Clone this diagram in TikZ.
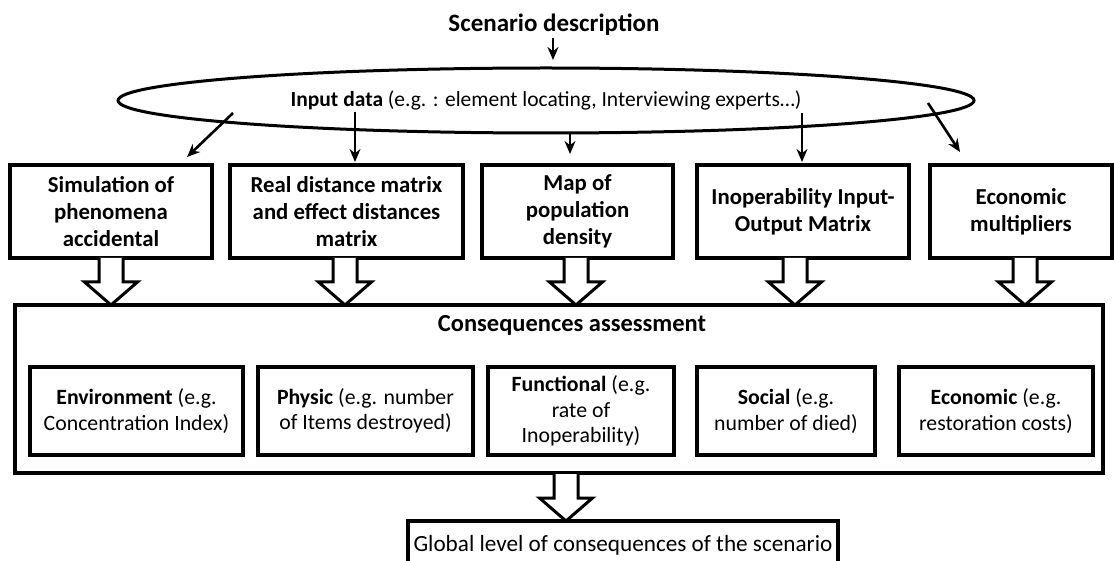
\documentclass[tikz,border=0pt]{standalone}
\usepackage{fontspec}
\setmainfont{Carlito}
\usetikzlibrary{shapes.geometric,arrows.meta}
\tikzset{
  topbox/.style={draw, line width=3.4pt, align=center, inner sep=0pt, font=\fontsize{22.8}{27}\selectfont\bfseries},
  innerbox/.style={draw, line width=3.4pt, align=center, inner sep=0pt, font=\fontsize{21.8}{25.5}\selectfont},
  bigbox/.style={draw, line width=3.4pt, inner sep=0pt},
  thinarr/.style={line width=2.6pt, -{Stealth[length=13pt,width=11pt]}},
  barrow/.pic={\draw[line width=3pt, line join=miter, fill=white]
     (-12,0) -- (-12,24) -- (-26.5,24) -- (0,47) -- (26.5,24) -- (12,24) -- (12,0);}
}
\begin{document}
\begin{tikzpicture}[x=1pt,y=-1pt]
\path[use as bounding box] (0,0) rectangle (1114,561);
\clip (0,0) rectangle (1114,561);
\fill[white] (0,0) rectangle (1114,561);

% top
\node[font=\fontsize{25}{28}\selectfont\bfseries, inner sep=0pt] (scen) at (554,25) {Scenario description};
\node[ellipse, draw, line width=3pt, minimum width=856pt, minimum height=65pt, inner sep=0pt,
      font=\fontsize{21.5}{25}\selectfont] (inp) at (546,100.5)
      {\textbf{Input data} (e.g. : element locating, Interviewing experts\dots)};

% top boxes
\node[topbox, minimum width=202pt, minimum height=93pt] (b1) at (111,211.5) {Simulation of\\phenomena\\accidental};
\node[topbox, minimum width=233pt, minimum height=93pt] (b2) at (346.5,211.5) {Real distance matrix\\and effect distances\\matrix};
\node[topbox, minimum width=191pt, minimum height=93pt] (b3) at (577.5,211.5) {Map of\\population\\density};
\node[topbox, minimum width=212pt, minimum height=93pt] (b4) at (803,211.5) {Inoperability Input-\\Output Matrix};
\node[topbox, minimum width=182pt, minimum height=93pt] (b5) at (1021,211.5) {Economic\\multipliers};

% thin arrows
\coordinate (s0) at (553,38);  \coordinate (t0) at (553,60);
\coordinate (s1) at (233,113); \coordinate (t1) at (187,157);
\coordinate (s2) at (355,112); \coordinate (t2) at (355,162);
\coordinate (s3) at (570,133); \coordinate (t3) at (570,154);
\coordinate (s4) at (802,113); \coordinate (t4) at (802,162);
\coordinate (s5) at (928,103); \coordinate (t5) at (960,152);
\draw[thinarr] (s0) -- (t0);
\draw[thinarr] (s1) -- (t1);
\draw[thinarr] (s2) -- (t2);
\draw[thinarr] (s3) -- (t3);
\draw[thinarr] (s4) -- (t4);
\draw[thinarr] (s5) -- (t5);

% consequences box
\node[bigbox, minimum width=1088pt, minimum height=168pt] (cons) at (559,389) {};
\node[font=\fontsize{24.5}{28}\selectfont\bfseries, inner sep=0pt] (ctitle) at (572,325) {Consequences assessment};
\node[innerbox, minimum width=213pt, minimum height=88pt] (i1) at (136.5,411) {\textbf{Environment} (e.g.\\Concentration Index)};
\node[innerbox, minimum width=215pt, minimum height=88pt] (i2) at (365.5,411) {\textbf{Physic} (e.g. number\\of Items destroyed)};
\node[innerbox, minimum width=186pt, minimum height=88pt] (i3) at (581,411) {\textbf{Functional} (e.g.\\rate of\\Inoperability)};
\node[innerbox, minimum width=178pt, minimum height=88pt] (i4) at (786,411) {\textbf{Social} (e.g.\\number of died)};
\node[innerbox, minimum width=194pt, minimum height=88pt] (i5) at (996,411) {\textbf{Economic} (e.g.\\restoration costs)};

% block arrows
\pic at (111,258) {barrow};
\pic at (345,258) {barrow};
\pic at (576,258) {barrow};
\pic at (795,258) {barrow};
\pic at (1025,258) {barrow};
\pic at (566,474) {barrow};

% global
\node[draw, line width=3.4pt, minimum width=430pt, minimum height=48pt, inner sep=0pt,
      font=\fontsize{23.2}{27}\selectfont] (glob) at (623,545) {Global level of consequences of the scenario};
\end{tikzpicture}
\end{document}
